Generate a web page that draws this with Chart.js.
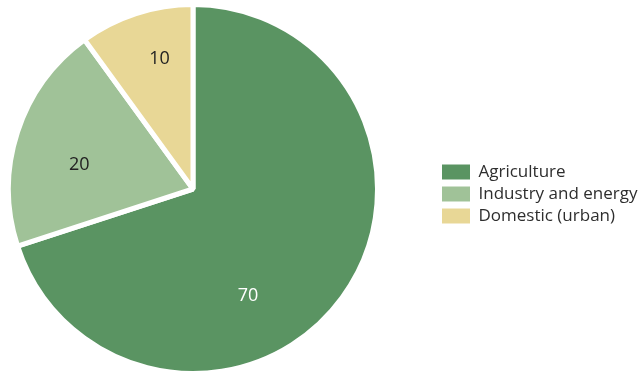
<!DOCTYPE html>
<html>
<head>
<meta charset="utf-8">
<script src="https://cdn.jsdelivr.net/npm/chart.js@4.4.1/dist/chart.umd.min.js"></script>
<style>
  html, body { margin: 0; padding: 0; background: #fff; }
  #wrap { width: 638px; height: 376px; position: relative; }
</style>
</head>
<body>
<div id="wrap"><canvas id="pie"></canvas></div>
<script>
// data (% of water use)
const categories = ['Agriculture', 'Industry and energy', 'Domestic (urban)'];
const shares = [70, 20, 10];

const sliceColors = ['#5a9462', '#a0c298', '#e8d796'];
const FONT = '"Open Sans", "DejaVu Sans", sans-serif';

// value labels inside the slices
const sliceLabels = {
    id: 'sliceLabels',
    afterDatasetsDraw(chart, args, opts) {
        const ctx = chart.ctx;
        const meta = chart.getDatasetMeta(0);
        ctx.save();
        ctx.font = '18px ' + FONT;
        ctx.textAlign = 'center';
        ctx.textBaseline = 'middle';
        meta.data.forEach((arc, i) => {
            const p = arc.getProps(['x', 'y', 'startAngle', 'endAngle', 'outerRadius'], true);
            const a = p.startAngle + (p.endAngle - p.startAngle) * opts.along[i];
            const r = p.outerRadius * opts.radial[i];
            ctx.fillStyle = opts.colors[i];
            ctx.fillText(String(shares[i]), p.x + Math.cos(a) * r, p.y + Math.sin(a) * r);
        });
        ctx.restore();
    }
};

// legend: fixed width so the pie sits on the left, then nudge the items
const legendPlace = {
    id: 'legendPlace',
    afterInit(chart) {
        const lg = chart.legend;
        const fit = lg.fit;
        lg.fit = function () {
            fit.call(this);
            this.width = 258;
        };
    },
    afterLayout(chart) {
        const lg = chart.legend;
        lg.left += 57;
        lg.right += 57;
        lg.top += 5;
        lg.bottom += 5;
    }
};

const defaultLabels = Chart.overrides.pie.plugins.legend.labels.generateLabels;

new Chart(document.getElementById('pie'), {
    type: 'pie',
    data: {
        labels: categories,
        datasets: [{
            data: shares,
            backgroundColor: sliceColors,
            borderColor: '#ffffff',
            borderWidth: 5
        }]
    },
    options: {
        responsive: true,
        maintainAspectRatio: false,
        animation: false,
        layout: { padding: { top: 2, bottom: 0, left: 6, right: 0 } },
        plugins: {
            tooltip: { enabled: false },
            legend: {
                position: 'right',
                align: 'center',
                labels: {
                    boxWidth: 28,
                    boxHeight: 15,
                    padding: 5,
                    color: '#2e2e2e',
                    font: { family: FONT, size: 17 },
                    generateLabels(chart) {
                        return defaultLabels(chart).map(l => Object.assign(l, { lineWidth: 0 }));
                    }
                }
            },
            sliceLabels: {
                along: [0.606, 0.417, 0.6],
                radial: [0.65, 0.63, 0.73],
                colors: ['#ffffff', '#222222', '#222222']
            }
        }
    },
    plugins: [legendPlace, sliceLabels]
});
</script>
</body>
</html>
